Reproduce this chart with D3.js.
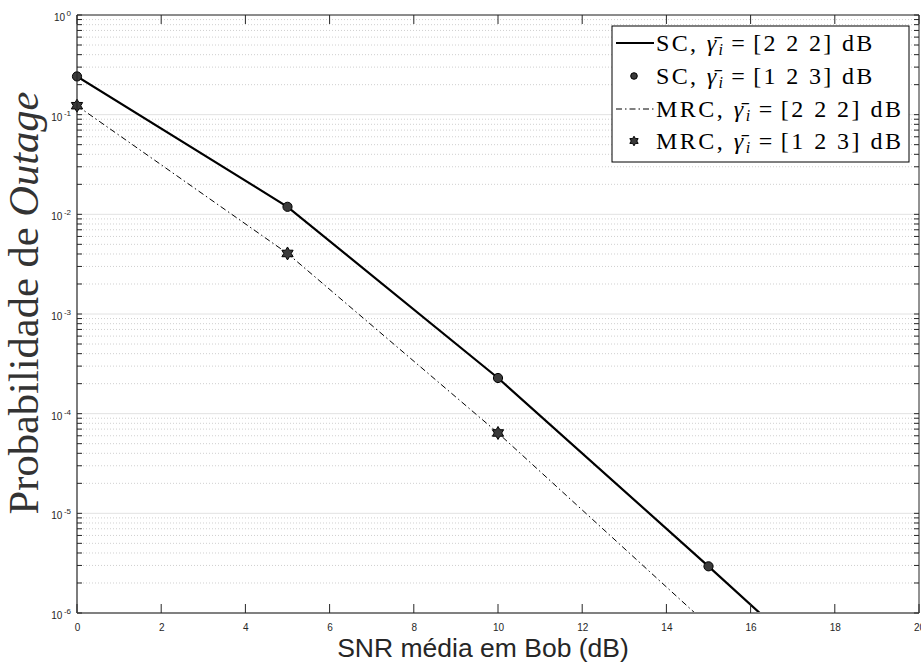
<!DOCTYPE html>
<html><head><meta charset="utf-8">
<script src="https://cdn.jsdelivr.net/npm/d3@7"></script>
<style>body{margin:0;background:#fff}</style>
</head><body>
<svg id="chart" width="921" height="664"></svg>
<script>
// ---- data ----
const snrDb = [0, 5, 10, 15, 20];
const scLine = [0.242, 0.0119, 2.28e-4, 2.94e-6, 3.5e-8];      // SC, [2 2 2] dB
const scMarkSnr = [0, 5, 10, 15];
const scMarks = [0.242, 0.0119, 2.28e-4, 2.94e-6];              // SC, [1 2 3] dB
const mrcLine = [0.123, 4.05e-3, 6.4e-5, 7.5e-7, 8.9e-9];       // MRC, [2 2 2] dB
const mrcMarkSnr = [0, 5, 10];
const mrcMarks = [0.123, 4.05e-3, 6.4e-5];                     // MRC, [1 2 3] dB
const xTicks = [0, 2, 4, 6, 8, 10, 12, 14, 16, 18, 20];
const yDecades = [-6, -5, -4, -3, -2, -1, 0];
const legendLabels = [["SC", "[2 2 2] dB"], ["SC", "[1 2 3] dB"], ["MRC", "[2 2 2] dB"], ["MRC", "[1 2 3] dB"]];

const svg = d3.select("#chart");
const L = 77, R = 919, T = 15, B = 613;
const x = d3.scaleLinear().domain([0, 20]).range([L, R]);
const y = d3.scaleLog().domain([1e-6, 1]).range([B, T]);
const axisCol = "#262626";

// grid
const minorVals = [];
yDecades.slice(0, -1).forEach(d => { for (let k = 2; k <= 9; k++) minorVals.push(k * Math.pow(10, d)); });
svg.append("g").selectAll("line").data(minorVals).join("line")
  .attr("x1", L).attr("x2", R).attr("y1", d => y(d)).attr("y2", d => y(d))
  .attr("stroke", "#c4c4c4").attr("stroke-width", 0.8).attr("stroke-dasharray", "1,2");
svg.append("g").selectAll("line").data(yDecades).join("line")
  .attr("x1", L).attr("x2", R).attr("y1", d => y(Math.pow(10, d))).attr("y2", d => y(Math.pow(10, d)))
  .attr("stroke", "#e2e2e2").attr("stroke-width", 1);

// clip
svg.append("clipPath").attr("id", "clip").append("rect")
  .attr("x", L).attr("y", T).attr("width", R - L).attr("height", B - T);

// lines
const line = d3.line().x(d => x(d[0])).y(d => y(d[1]));
svg.append("path").attr("clip-path", "url(#clip)")
  .attr("d", line(snrDb.map((s, i) => [s, mrcLine[i]])))
  .attr("fill", "none").attr("stroke", "#000").attr("stroke-width", 1)
  .attr("stroke-dasharray", "6,3,1.5,3");
svg.append("path").attr("clip-path", "url(#clip)")
  .attr("d", line(snrDb.map((s, i) => [s, scLine[i]])))
  .attr("fill", "none").attr("stroke", "#000").attr("stroke-width", 2.2);

// hexagram path
function hexagram(Ro) {
  const ri = Ro / Math.sqrt(3);
  const pts = [];
  for (let k = 0; k < 12; k++) {
    const a = -Math.PI / 2 + k * Math.PI / 6;
    const r = k % 2 === 0 ? Ro : ri;
    pts.push([r * Math.cos(a), r * Math.sin(a)]);
  }
  return "M" + pts.map(p => p[0].toFixed(2) + "," + p[1].toFixed(2)).join("L") + "Z";
}

// markers
svg.append("g").selectAll("circle").data(scMarkSnr.map((s, i) => [s, scMarks[i]])).join("circle")
  .attr("cx", d => x(d[0])).attr("cy", d => y(d[1])).attr("r", 4.6)
  .attr("fill", "#3a3a3a").attr("stroke", "#000").attr("stroke-width", 1);
svg.append("g").selectAll("path").data(mrcMarkSnr.map((s, i) => [s, mrcMarks[i]])).join("path")
  .attr("transform", d => `translate(${x(d[0])},${y(d[1])})`).attr("d", hexagram(6.5))
  .attr("fill", "#3a3a3a").attr("stroke", "#000").attr("stroke-width", 1);

// axes box
svg.append("line").attr("x1", L).attr("x2", R).attr("y1", T).attr("y2", T).attr("stroke", axisCol).attr("stroke-width", 1);
svg.append("line").attr("x1", R).attr("x2", R).attr("y1", T).attr("y2", B).attr("stroke", axisCol).attr("stroke-width", 1);
svg.append("line").attr("x1", L).attr("x2", L).attr("y1", T).attr("y2", B).attr("stroke", axisCol).attr("stroke-width", 1.2);
svg.append("line").attr("x1", L).attr("x2", R).attr("y1", B).attr("y2", B).attr("stroke", "#808080").attr("stroke-width", 2);

// x ticks
const gx = svg.append("g").attr("transform", `translate(0,${B})`)
  .call(d3.axisBottom(x).tickValues(xTicks).tickSize(0).tickPadding(11).tickFormat(d3.format("d")));
gx.select(".domain").remove();
gx.selectAll("text").attr("font-family", "Liberation Sans, Arial, sans-serif").attr("font-size", 10).attr("fill", axisCol);
svg.append("g").selectAll("line").data(xTicks).join("line")
  .attr("x1", d => x(d)).attr("x2", d => x(d)).attr("y1", B).attr("y2", B - 9).attr("stroke", axisCol);
svg.append("g").selectAll("line").data(xTicks).join("line")
  .attr("x1", d => x(d)).attr("x2", d => x(d)).attr("y1", T).attr("y2", T + 9).attr("stroke", axisCol);

// y ticks (left & right)
const allY = minorVals.concat(yDecades.map(d => Math.pow(10, d)));
svg.append("g").selectAll("line").data(allY).join("line")
  .attr("x1", L).attr("x2", L + 5).attr("y1", d => y(d)).attr("y2", d => y(d)).attr("stroke", axisCol);
svg.append("g").selectAll("line").data(allY).join("line")
  .attr("x1", R).attr("x2", R - 5).attr("y1", d => y(d)).attr("y2", d => y(d)).attr("stroke", axisCol);

// y tick labels 10^d
const yl = svg.append("g").selectAll("text").data(yDecades).join("text")
  .attr("x", 71).attr("y", d => y(Math.pow(10, d)) + 6)
  .attr("text-anchor", "end").attr("font-family", "Liberation Sans, Arial, sans-serif")
  .attr("font-size", 10).attr("fill", axisCol);
yl.append("tspan").text("10");
yl.append("tspan").attr("dy", -5).attr("dx", 1.5).attr("font-size", 8).text(d => d === 0 ? "0" : "-" + Math.abs(d));

// axis labels
svg.append("text").attr("x", 483).attr("y", 657).attr("text-anchor", "middle")
  .attr("font-family", "Liberation Sans, Arial, sans-serif").attr("font-size", 26.5).attr("fill", axisCol)
  .text("SNR média em Bob (dB)");
const ylab = svg.append("text").attr("transform", "translate(38,303) rotate(-90)").attr("text-anchor", "middle")
  .attr("font-family", "Liberation Serif, Times New Roman, serif").attr("font-size", 28).attr("fill", "#333");
ylab.append("tspan").text("Probabilidade de ");
ylab.append("tspan").attr("font-style", "italic").text("Outage");
const wlab = ylab.node().getComputedTextLength();
ylab.attr("font-size", 28 * 423 / wlab);

// legend
const lg = svg.append("g");
lg.append("rect").attr("x", 612).attr("y", 26).attr("width", 297).attr("height", 136)
  .attr("fill", "#fff").attr("stroke", "#000").attr("stroke-width", 1);
const rowY = [43, 76, 109, 141];
const targetW = [221, 221, 250, 250];
legendLabels.forEach((lab, i) => {
  const cy = rowY[i];
  if (i === 0) lg.append("line").attr("x1", 616).attr("x2", 654).attr("y1", cy).attr("y2", cy).attr("stroke", "#000").attr("stroke-width", 2.2);
  if (i === 2) lg.append("line").attr("x1", 616).attr("x2", 654).attr("y1", cy).attr("y2", cy).attr("stroke", "#000").attr("stroke-width", 1).attr("stroke-dasharray", "6,3,1.5,3");
  if (i === 1) lg.append("circle").attr("cx", 634).attr("cy", cy).attr("r", 3.3).attr("fill", "#3a3a3a").attr("stroke", "#000");
  if (i === 3) lg.append("path").attr("transform", `translate(634,${cy})`).attr("d", hexagram(4.8)).attr("fill", "#3a3a3a").attr("stroke", "#000");
  const t = lg.append("text").attr("x", 656).attr("y", cy + 7.5)
    .attr("font-family", "Liberation Serif, Times New Roman, serif").attr("font-size", 24).attr("fill", "#000");
  t.append("tspan").text(lab[0] + ", ");
  t.append("tspan").attr("font-style", "italic").text("γ\u0304");
  t.append("tspan").attr("font-style", "italic").attr("font-size", 16).attr("dy", 4).text("i");
  t.append("tspan").attr("dy", -4).attr("dx", 6).text("=");
  t.append("tspan").attr("dx", 6).text(lab[1]);
  const w = t.node().getComputedTextLength() + 12;
  const n = t.text().length;
  t.attr("letter-spacing", Math.max(0, (targetW[i] - w) / n));
});
</script>
</body></html>
